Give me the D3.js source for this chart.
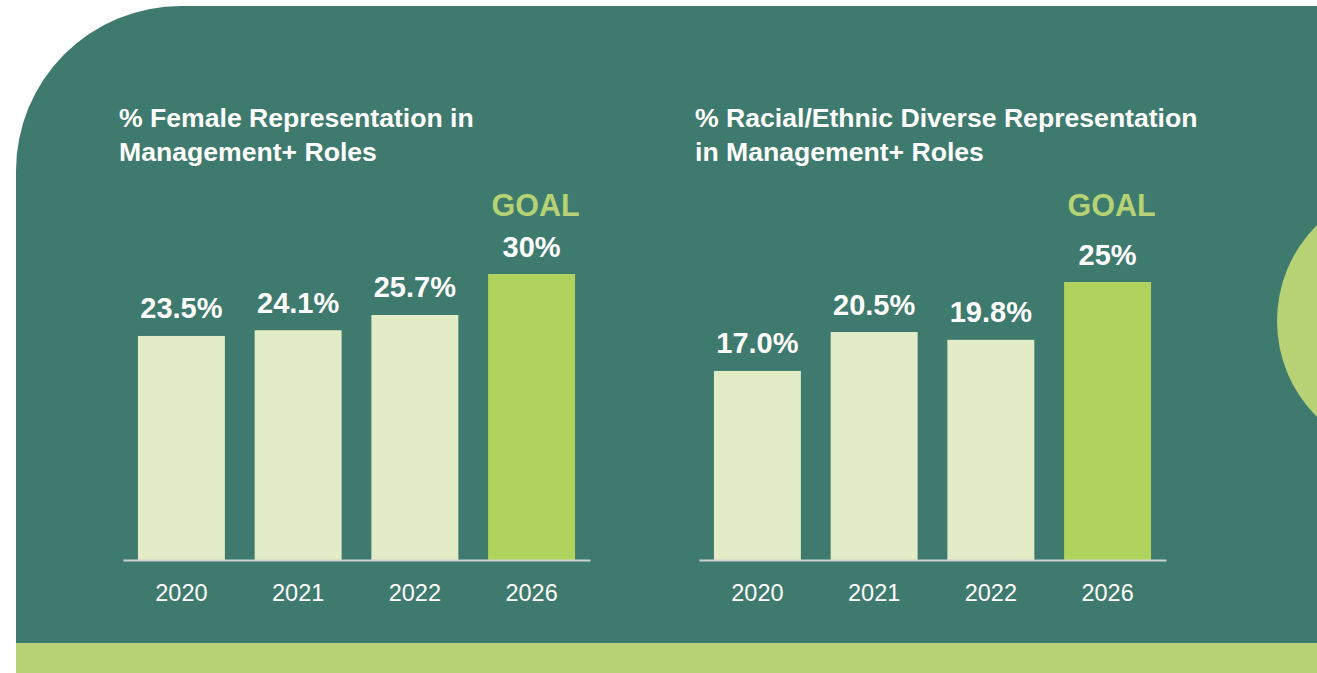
<!DOCTYPE html>
<html><head><meta charset="utf-8">
<script src="https://cdn.jsdelivr.net/npm/d3@7"></script>
<style>html,body{margin:0;padding:0;background:#fff;overflow:hidden}svg{display:block}</style>
</head><body>
<svg id="c" width="1317" height="673"></svg>
<script>
const years = ["2020", "2021", "2022", "2026"];
const femaleValues = [23.5, 24.1, 25.7, 30];
const femaleLabels = ["23.5%", "24.1%", "25.7%", "30%"];
const diverseValues = [17.0, 20.5, 19.8, 25];
const diverseLabels = ["17.0%", "20.5%", "19.8%", "25%"];
const goalFlags = [false, false, false, true];
const femaleTitle = ["% Female Representation in", "Management+ Roles"];
const diverseTitle = ["% Racial/Ethnic Diverse Representation", "in Management+ Roles"];
const goalText = "GOAL";

const svg = d3.select("#c");
const font = "'Liberation Sans', Arial, Helvetica, sans-serif";
const panel = "#3f7a6e", light = "#e2ecc6", goal = "#b0d35e", accent = "#b6d274";

// background panel with rounded top-left corner
const R = 165;
svg.append("path")
  .attr("d", `M16,643 L16,${6+R} A${R},${R} 0 0 1 ${16+R},6 L1317,6 L1317,643 Z`)
  .attr("fill", panel);
svg.append("rect").attr("x", 16).attr("y", 643).attr("width", 1301).attr("height", 30).attr("fill", accent);
svg.append("circle").attr("cx", 1412).attr("cy", 321).attr("r", 135).attr("fill", accent);

function chart(x0, x1, maxV, yTop, values, labels, title) {
  const g = svg.append("g");
  const x = d3.scaleBand().domain(years).range([x0, x1]).paddingInner(0.255).paddingOuter(0.128);
  const y = d3.scaleLinear().domain([0, maxV]).range([560, yTop]);
  const data = years.map((yr, i) => ({yr, v: values[i], lab: labels[i], goal: goalFlags[i]}));

  g.selectAll("text.title").data(title).join("text")
    .attr("x", x0 - 4).attr("y", (d, i) => 127 + i * 34)
    .attr("fill", "#fff").attr("font-family", font).attr("font-weight", "bold").attr("font-size", 26.6)
    .text(d => d);

  g.selectAll("rect.bar").data(data).join("rect")
    .attr("x", d => x(d.yr)).attr("width", x.bandwidth())
    .attr("y", d => y(d.v)).attr("height", d => y(0) - y(d.v))
    .attr("fill", d => d.goal ? goal : light);

  const axis = g.append("g").attr("transform", "translate(0,560)")
    .call(d3.axisBottom(x).tickSize(0).tickPadding(24));
  axis.select(".domain").attr("stroke", "#cfcfcf").attr("stroke-width", 2);
  axis.selectAll("text").attr("fill", "#fff").attr("font-family", font).attr("font-size", 23.5);

  g.selectAll("text.val").data(data).join("text")
    .attr("x", d => x(d.yr) + x.bandwidth() / 2).attr("y", d => y(d.v) - 17.5)
    .attr("text-anchor", "middle").attr("fill", "#fff").attr("font-family", font)
    .attr("font-weight", "bold").attr("font-size", 29).text(d => d.lab);

  g.selectAll("text.goal").data(data.filter(d => d.goal)).join("text")
    .attr("x", d => x(d.yr) + x.bandwidth() / 2 + 4).attr("y", 216)
    .attr("text-anchor", "middle").attr("fill", accent).attr("font-family", font)
    .attr("font-weight", "bold").attr("font-size", 30.5).text(goalText);
}

chart(123, 590, 30, 274, femaleValues, femaleLabels, femaleTitle);
chart(699, 1166, 25, 282, diverseValues, diverseLabels, diverseTitle);
</script>
</body></html>
